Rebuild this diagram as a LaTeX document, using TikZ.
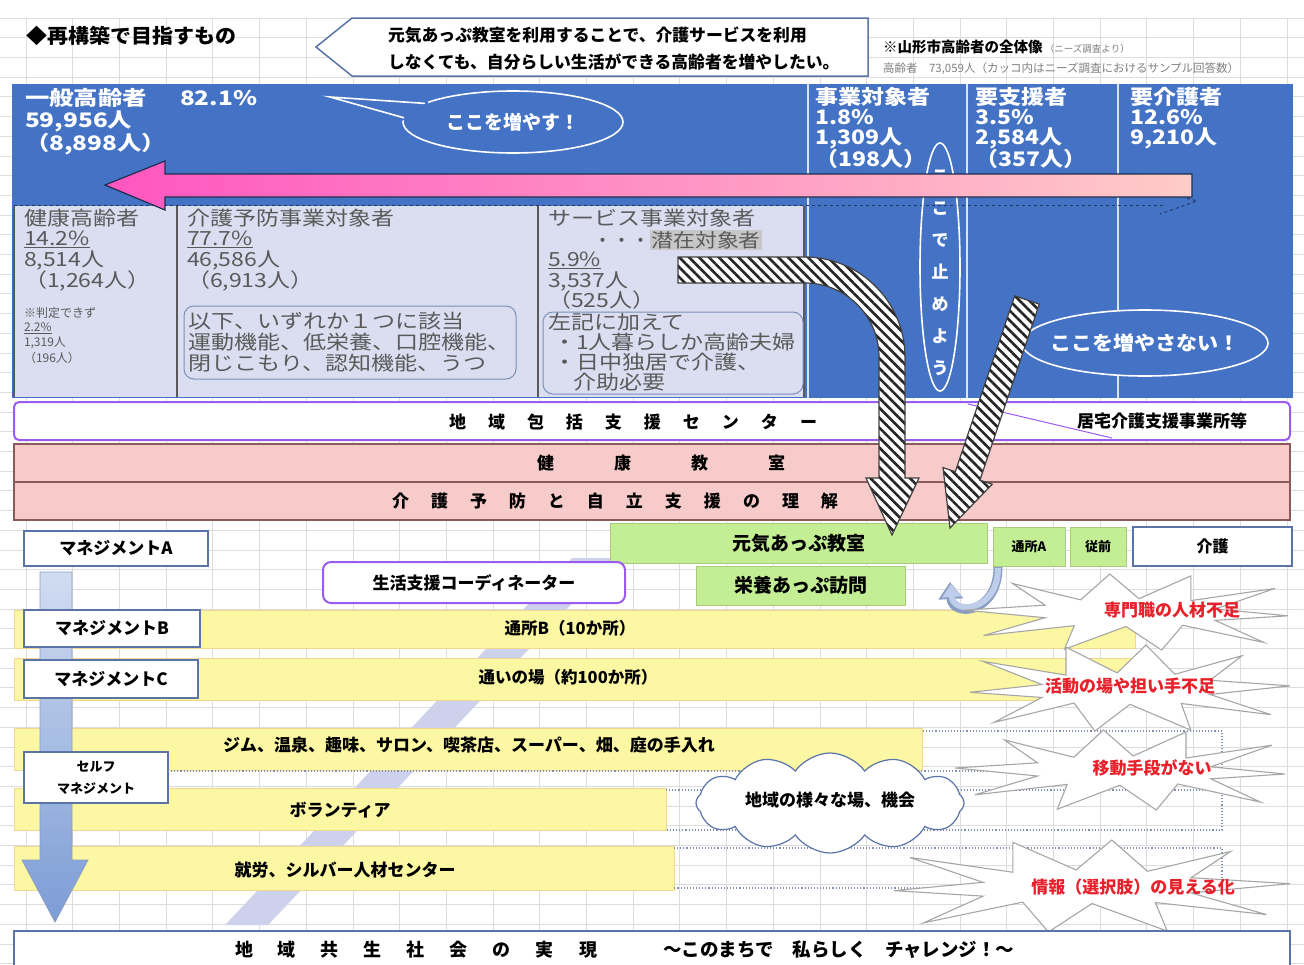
\documentclass[tikz,border=0pt]{standalone}
\usepackage{fontspec}
\setmainfont{Noto Sans CJK JP}
\usetikzlibrary{shapes.symbols,patterns.meta,arrows.meta}
\definecolor{cblue}{HTML}{4472C4}
\definecolor{clav}{HTML}{DADEF0}
\definecolor{cpink}{HTML}{F8CBCB}
\definecolor{cpinkB}{HTML}{8A5A5A}
\definecolor{cgreen}{HTML}{C4EE94}
\definecolor{cyel}{HTML}{FCF7A2}
\definecolor{cyelB}{HTML}{F0D890}
\definecolor{cpurple}{HTML}{9A5CF0}
\definecolor{cgrid}{HTML}{DDDDDD}
\definecolor{cframe}{HTML}{5A74A8}
\definecolor{cred}{HTML}{E8202A}
\definecolor{cgt}{HTML}{5A5A5A}
\definecolor{cdot}{HTML}{8090B0}
\definecolor{cpinkL}{HTML}{FF55C0}
\definecolor{cpinkR}{HTML}{FFCCC8}
\definecolor{cdiag}{HTML}{CDD1EB}
\newcommand\myfs[1]{\fontsize{#1}{#1}\selectfont}
\newcommand\hx[1]{\scalebox{1.18}[1]{#1}}
\newcommand\hw[1]{\scalebox{1.22}[1]{#1}}
\makeatletter
\newcommand\spaced[2]{\def\sp@f{1}\@tfor\sp@c:=#2\do{\ifnum\sp@f=1 \def\sp@f{0}\else\hspace{#1}\fi\sp@c}}
\makeatother
\tikzset{
 wtx/.style={text=white, font=\myfs{20}\bfseries, anchor=west},
 gtx/.style={text=cgt, font=\myfs{19.5}, anchor=west},
 gsm/.style={text=cgt, font=\myfs{12}, anchor=west},
 mgmt/.style={draw=cframe, line width=1.2pt, fill=white, anchor=north west, font=\myfs{17}\bfseries},
 gbox/.style={fill=cgreen, draw=cgreen!85!black, line width=0.5pt, anchor=north west},
 ybar/.style={fill=cyel, draw=cyelB, line width=0.8pt, anchor=north west},
 pband/.style={fill=cpink, draw=cpinkB, line width=1.2pt, anchor=north west, minimum width=1276pt, minimum height=38pt},
 burstp/.style={draw=gray!70, fill=white, line width=1.1pt, line join=miter},
 rtx/.style={text=cred, font=\myfs{17}\bfseries},
 dline/.style={dotted, line width=1.1pt, draw=cdot},
 hatch/.style={preaction={fill=white}, pattern={Lines[angle=-45,distance=7pt,line width=2.6pt]}, pattern color=black!85, draw=black!75, line width=1.2pt},
 wring/.style={draw=white, line width=1.6pt},
 btx/.style={font=\myfs{17}\bfseries},
 explosion/.pic={\draw[burstp] (-1.00,-0.05) -- (-0.50,-0.18) -- (-0.70,-0.75) -- (-0.28,-0.32) -- (-0.10,-1.00) -- (0.08,-0.35) -- (0.40,-0.95) -- (0.40,-0.30) -- (0.92,-0.62) -- (0.55,-0.08) -- (1.00,0.10) -- (0.55,0.22) -- (0.85,0.80) -- (0.35,0.35) -- (0.22,1.00) -- (0.00,0.38) -- (-0.38,0.98) -- (-0.32,0.36) -- (-0.88,0.62) -- (-0.50,0.15) -- cycle;}
}
\begin{document}
\begin{tikzpicture}[x=1pt,y=-1pt, every node/.style={inner sep=0pt,outer sep=0pt}]
\useasboundingbox (0,0) rectangle (1304,964);
\fill[white] (0,0) rectangle (1304,964);
% grid
\foreach \i in {0,...,27} \draw[cgrid, line width=0.7pt] ({26+46.7*\i},18) -- ({26+46.7*\i},964);
\foreach \j in {0,...,48} \draw[cgrid, line width=0.7pt] (0,{18+19.7*\j}) -- (1304,{18+19.7*\j});

% title and callout
\node[anchor=west, font=\myfs{20}\bfseries] (title) at (27,36) {\scalebox{1.05}[1]{◆再構築で目指すもの}};
\draw[draw=cframe, line width=1.5pt, fill=white] (316,47) -- (352,18) -- (868,18) -- (868,76) -- (352,76) -- cycle;
\node[anchor=west, font=\myfs{16.8}\bfseries] (call1) at (388,35) {元気あっぷ教室を利用することで、介護サービスを利用};
\node[anchor=west, font=\myfs{16.8}\bfseries] (call2) at (388,62) {しなくても、自分らしい生活ができる高齢者を増やしたい。};
\node[anchor=west, font=\myfs{14.5}\bfseries] (whole) at (883,47) {※山形市高齢者の全体像\,{\myfs{9.5}\mdseries\color{gray}（ニーズ調査より）}};
\node[anchor=west, text=gray, font=\myfs{11.5}] (whole2) at (883,69) {高齢者　73,059人（カッコ内はニーズ調査におけるサンプル回答数）};

% blue area
\fill[cblue] (12,84) rectangle (1293,398);
\foreach \x in {808,967,1118} \draw[white!80!cblue, line width=1.6pt] (\x,84) -- (\x,398);
% lavender columns
\fill[clav] (14,206) rectangle (804,397);
\foreach \x in {14,177,538,804} \draw[black!65, line width=1.3pt] (\x,206) -- (\x,397);
\draw[cblue!50!black, dashed, line width=1pt] (14,205) -- (1165,205);
\draw[cblue!50!black, dashed, line width=1pt] (1158,190) -- (1197,201) -- (1160,214);

\node[wtx] (g1) at (25,98) {\hw{一般高齢者}};
\node[wtx] (g2) at (180,98) {\hw{82.1\%}};
\node[wtx] (g3) at (25,121) {\hw{59,956人}};
\node[wtx] (g4) at (25,144) {\hw{（8,898人）}};
\node[wtx] (j1) at (815,97) {\scalebox{1.15}[1]{事業対象者}};
\node[wtx] (j2) at (815,117.5) {\scalebox{1.15}[1]{1.8\%}};
\node[wtx] (j3) at (815,138) {\scalebox{1.15}[1]{1,309人}};
\node[wtx] (j4) at (815,158.5) {\scalebox{1.15}[1]{（198人）}};
\node[wtx] (s1) at (975,97) {\scalebox{1.15}[1]{要支援者}};
\node[wtx] (s2) at (975,117.5) {\scalebox{1.15}[1]{3.5\%}};
\node[wtx] (s3) at (975,138) {\scalebox{1.15}[1]{2,584人}};
\node[wtx] (s4) at (975,158.5) {\scalebox{1.15}[1]{（357人）}};
\node[wtx] (k1) at (1130,97) {\scalebox{1.15}[1]{要介護者}};
\node[wtx] (k2) at (1130,117.5) {\scalebox{1.15}[1]{12.6\%}};
\node[wtx] (k3) at (1130,138) {\scalebox{1.15}[1]{9,210人}};

% column 1
\node[gtx] (c11) at (24,218) {\hx{健康高齢者}};
\node[gtx] (c12) at (24,239) {\hx{\underline{14.2\%}}};
\node[gtx] (c13) at (24,260) {\hx{8,514人}};
\node[gtx] (c14) at (24,281) {\hx{（1,264人）}};
\node[gsm] (c15) at (24,313) {※判定できず};
\node[gsm] (c16) at (24,328) {\underline{2.2\%}};
\node[gsm] (c17) at (24,343) {1,319人};
\node[gsm] (c18) at (24,358) {（196人）};
% column 2
\node[gtx] (c21) at (187,218) {\hx{介護予防事業対象者}};
\node[gtx] (c22) at (187,239) {\hx{\underline{77.7\%}}};
\node[gtx] (c23) at (187,260) {\hx{46,586人}};
\node[gtx] (c24) at (187,281) {\hx{（6,913人）}};
\draw[rounded corners=10pt, draw=cframe!80, line width=1pt] (184,306) rectangle (516,379);
\node[gtx] (c25) at (188,321) {\hx{以下、いずれか１つに該当}};
\node[gtx] (c26) at (188,342) {\hx{運動機能、低栄養、口腔機能、}};
\node[gtx] (c27) at (188,363) {\hx{閉じこもり、認知機能、うつ}};
% column 3
\node[gtx] (c31) at (548,218) {\hx{サービス事業対象者}};
\node[gtx, font=\myfs{19}] (c32) at (593,240) {・・・\setlength\fboxsep{1.5pt}\colorbox{black!22}{\scalebox{1.15}[1]{潜在対象者}}};
\node[gtx] (c34) at (548,260) {\hx{\underline{5.9\%}}};
\node[gtx] (c35) at (548,281) {\hx{3,537人}};
\node[gtx] (c36) at (548,300) {\hx{（525人）}};
\draw[rounded corners=10pt, draw=cframe!80, line width=1pt] (543,312) rectangle (803,394);
\node[gtx] (c37) at (548,322) {\hx{左記に加えて}};
\node[gtx] (c38) at (553,342) {\hx{・1人暮らしか高齢夫婦}};
\node[gtx] (c39) at (553,362) {\hx{・日中独居で介護、}};
\node[gtx] (c3a) at (573,382) {\hx{介助必要}};

% speech bubble
\draw[wring] (513,122) ellipse [x radius=110, y radius=31];
\fill[cblue] (330,97) -- (428,100) -- (428,112) -- (401,121) -- cycle;
\draw[wring] (425,103.4) -- (330,97) -- (404,117.8);
\node[text=white, font=\myfs{19}\bfseries] (more) at (513,122) {ここを増やす！};

% vertical ellipse
\draw[wring] (940,267) ellipse [x radius=20, y radius=124];
\node[text=white, font=\fontsize{17}{32}\selectfont\bfseries, align=center] (stop) at (940,273) {こ\\こ\\で\\止\\め\\よ\\う};

% pink arrow
\shadedraw[left color=cpinkL, right color=cpinkR, draw=cblue!40!black, line width=1.2pt]
 (105,185) -- (165,161) -- (165,174) -- (1192,174) -- (1192,197) -- (165,197) -- (165,210) -- cycle;

% ellipse not increase
\draw[wring, fill=cblue] (1145,343) ellipse [x radius=123, y radius=33];
\node[text=white, font=\myfs{19.5}\bfseries] (nomore) at (1145,343) {\scalebox{1.08}[1]{ここを増やさない！}};

% purple box and pink bands
\node[draw=cpurple, line width=2pt, rounded corners=5pt, fill=white, minimum width=1276pt, minimum height=38pt, anchor=north west] (center) at (14,402) {};
\draw[cpurple, line width=1pt] (968,404) -- (1112,438);
\node[btx] (centertxt) at (633,422) {\spaced{22pt}{地域包括支援センター}};
\node[btx, anchor=west] (kyotaku) at (1077,421) {居宅介護支援事業所等};
\node[pband] (kenko) at (14,444) {};
\node[btx] (kenkotxt) at (661,463) {\spaced{60pt}{健康教室}};
\node[pband] (rikai) at (14,482) {};
\node[btx] (rikaitxt) at (615,501) {\spaced{22pt}{介護予防と自立支援の理解}};

% diagonal lavender band
\fill[cdiag] (572,558) -- (615,558) -- (268,925) -- (225,925) -- cycle;

% green boxes
\node[gbox, minimum width=377pt, minimum height=40pt, font=\myfs{19}\bfseries] (genki) at (610,523) {元気あっぷ教室};
\node[gbox, minimum width=72pt, minimum height=39pt, font=\myfs{13}\bfseries] (tsushoA) at (993,527) {通所A};
\node[gbox, minimum width=56pt, minimum height=39pt, font=\myfs{13}\bfseries] (juzen) at (1070,527) {従前};
\node[mgmt, minimum width=159pt, minimum height=39pt, font=\myfs{16}\bfseries] (kaigo) at (1133,527) {介護};
\node[gbox, minimum width=209pt, minimum height=39pt, font=\myfs{19}\bfseries] (eiyo) at (696,566) {栄養あっぷ訪問};
\node[draw=cpurple, line width=2pt, rounded corners=8pt, fill=white, minimum width=302pt, minimum height=41pt, anchor=north west, font=\myfs{17}\bfseries] (coord) at (323,562) {生活支援コーディネーター};

% yellow bars
\node[ybar, minimum width=1121pt, minimum height=38pt] (barB) at (14,610) {};
\node[btx, font=\myfs{16.5}\bfseries] (barBtxt) at (570,628) {通所B（10か所）};
\node[ybar, minimum width=1121pt, minimum height=42pt] (barC) at (14,658) {};
\node[btx, font=\myfs{16.5}\bfseries] (barCtxt) at (568,677) {通いの場（約100か所）};
\node[ybar, minimum width=908pt, minimum height=42pt] (gym) at (14,728) {};
\node[btx, font=\myfs{17}\bfseries] (gymtxt) at (469,745) {ジム、温泉、趣味、サロン、喫茶店、スーパー、畑、庭の手入れ};
\node[ybar, minimum width=652pt, minimum height=42pt] (vol) at (14,788) {};
\node[btx] (voltxt) at (340,810) {ボランティア};
\node[ybar, minimum width=660pt, minimum height=44pt] (work) at (14,846) {};
\node[btx] (worktxt) at (345,870) {就労、シルバー人材センター};

% hatched arrows
\draw[hatch] (678,257) -- (805,257) .. controls (860,257) and (905,302) .. (905,357) -- (905,478) -- (919,478) -- (892,535) -- (866,478) -- (879,478) -- (879,357) .. controls (879,316) and (846,283) .. (805,283) -- (678,283) -- cycle;
\draw[hatch] (1014.7,295.8) -- (1039.3,304.2) -- (979.9,480.1) -- (992.2,484.2) -- (950,528) -- (943,467.6) -- (955.3,471.7) -- cycle;

% small curved arrow
\draw[line width=9pt, color=cframe!70, -{Triangle[length=17pt,width=24pt]}] (998,567) .. controls (998,614) and (952,618) .. (950,582);
\draw[line width=6pt, color=cblue!35, -{Triangle[length=13pt,width=19pt]}] (998,568) .. controls (998,612) and (953,615) .. (951,584);

% management arrow and boxes
\shadedraw[top color=cblue!25, bottom color=cblue!70, draw=cframe!70, line width=0.8pt]
 (40,572) -- (72,572) -- (72,860) -- (88,860) -- (55,922) -- (22,860) -- (40,860) -- cycle;
\node[mgmt, minimum width=184pt, minimum height=35pt] (mA) at (24,531) {マネジメントA};
\node[mgmt, minimum width=176pt, minimum height=37pt] (mB) at (24,610) {マネジメントB};
\node[mgmt, minimum width=174pt, minimum height=38pt] (mC) at (24,660) {マネジメントC};
\node[mgmt, minimum width=144pt, minimum height=51pt, font=\fontsize{13}{22}\selectfont\bfseries, align=center] (mS) at (24,752) {セルフ\\マネジメント};

% dotted extensions
\draw[dline] (168,771) -- (1222,771) -- (1222,731) -- (922,731);
\draw[dline] (666,790) -- (1222,790) -- (1222,830) -- (666,830);
\draw[dline] (674,848) -- (1222,848) -- (1222,888) -- (674,888);

% cloud
\node[cloud, cloud puffs=12, cloud puff arc=110, aspect=2.5, draw=cframe, fill=white, line width=1.2pt, minimum width=268pt, minimum height=100pt] (cloud) at (830,803) {};
\node[btx] (cloudtxt) at (830,800) {地域の様々な場、機会};

% explosions
\pic[xscale=162, yscale=38] (b1) at (1126,612) {explosion};
\node[rtx] (b1t) at (1172,610) {専門職の人材不足};
\pic[xscale=-160, yscale=43] (b2) at (1130,688) {explosion};
\node[rtx] (b2t) at (1130,686) {活動の場や担い手不足};
\pic[xscale=165, yscale=40] (b3) at (1120,770) {explosion};
\node[rtx] (b3t) at (1152,768) {移動手段がない};
\pic[xscale=-198, yscale=46] (b4) at (1092,886) {explosion};
\node[rtx] (b4t) at (1133,887) {情報（選択肢）の見える化};

% bottom box
\node[draw=cframe, line width=1.5pt, fill=white, minimum width=1276pt, minimum height=42pt, anchor=north west] (bottom) at (14,931) {};
\node[btx, font=\myfs{18}\bfseries] (bottom1) at (416,950) {\spaced{25pt}{地域共生社会の実現}};
\node[btx, font=\myfs{18.5}\bfseries, anchor=west] (bottom2) at (663,950) {〜このまちで　私らしく　チャレンジ！〜};
\end{tikzpicture}
\end{document}
